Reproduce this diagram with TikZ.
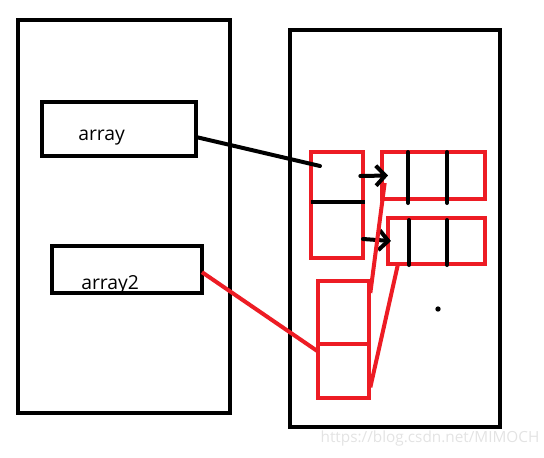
\documentclass[tikz,border=0pt]{standalone}
\usepackage{xcolor}
\usepackage{fontspec}
\setmainfont{Open Sans}
\usepackage{tikz}
\usetikzlibrary{arrows.meta, positioning, calc}
\definecolor{paintred}{HTML}{ED1C24}
\begin{document}
\begin{tikzpicture}[x=0.75pt, y=-0.75pt,
		frame/.style={draw=black, line width=3.5pt, inner sep=0pt, outer sep=0pt},
		varbox/.style={draw=black, line width=3pt, inner sep=0pt, outer sep=0pt},
		cellbox/.style={draw=paintred, line width=3pt, inner sep=0pt, outer sep=0pt},
		ptr/.style={black, line width=3pt, line cap=round},
		refline/.style={paintred, line width=3pt},
		lbl/.style={font=\fontsize{14.5}{16}\selectfont, inner sep=0pt, anchor=base west}]
	\useasboundingbox (0,0) rectangle (544,458);

	% Stack and heap
	\node[frame, minimum width=159pt, minimum height=294.75pt] (stack) at (124,216.5) {};
	\node[frame, minimum width=157.5pt, minimum height=297.75pt] (heap) at (395,228.5) {};

	% Variables
	\node[varbox, minimum width=115.5pt, minimum height=40.5pt] (arr) at (119,129) {};
	\node[varbox, minimum width=112.5pt, minimum height=35.25pt] (arrtwo) at (127,269.5) {};
	\node[lbl] (arrlbl) at (78,140) {array};
	\node[lbl] (arrtwolbl) at (81,289) {array2};

	% Heap blocks
	\node[cellbox, minimum width=39pt, minimum height=79.5pt] (ptrs) at (337,205) {};
	\node[cellbox, minimum width=77.25pt, minimum height=35.25pt] (rowa) at (433.5,175.5) {};
	\node[cellbox, minimum width=72.75pt, minimum height=34.5pt] (rowb) at (436.5,241) {};
	\node[cellbox, minimum width=38.25pt, minimum height=87.75pt] (ptrstwo) at (343.5,339.5) {};

	% Cell dividers
	\draw[ptr, line cap=butt] ([yshift=2.25pt]ptrs.west) -- ([yshift=2.25pt, xshift=1.5pt]ptrs.east);
	\draw[refline] ([yshift=-3.4pt]ptrstwo.west) -- ([yshift=-3.4pt]ptrstwo.east);
	\foreach \dx in {26,65}
		\draw[ptr] ($(rowa.north west)+(\dx,0)$) -- ($(rowa.south west)+(\dx,4)$);
	\foreach \dx in {21,59}
		\draw[ptr] ($(rowb.north west)+(\dx,2)$) -- ($(rowb.south west)+(\dx,1)$);

	% References
	\coordinate (hit) at (320,166);
	\draw[ptr] ([yshift=-6pt]arr.east) -- (hit);
	\draw[ptr, -{Straight Barb[length=7pt, width=15pt]}] ([yshift=21.75pt, xshift=-2pt]ptrs.east) -- ([xshift=4.5pt]rowa.west);
	\draw[ptr, -{Straight Barb[length=7pt, width=15pt]}] ([yshift=-25.5pt]ptrs.east) -- ([xshift=2.25pt]rowb.west);
	\draw[refline] ([yshift=-2pt]arrtwo.east) -- ([yshift=-9pt]ptrstwo.west);
	\draw[refline] ([yshift=-9pt, xshift=1pt]ptrstwo.north east) -- ([yshift=12pt, xshift=2pt]rowa.south west);
	\draw[refline] ([yshift=8pt, xshift=1pt]ptrstwo.south east) -- ([xshift=7.5pt]rowb.south west);

	% Annotations
	\fill (438,309) circle[radius=2pt];
	\node[font=\fontsize{11.5}{13}\selectfont, text=black!11, inner sep=0pt] (mark) at (430,439) {https://blog.csdn.net/MIMOCH};
\end{tikzpicture}
\end{document}
